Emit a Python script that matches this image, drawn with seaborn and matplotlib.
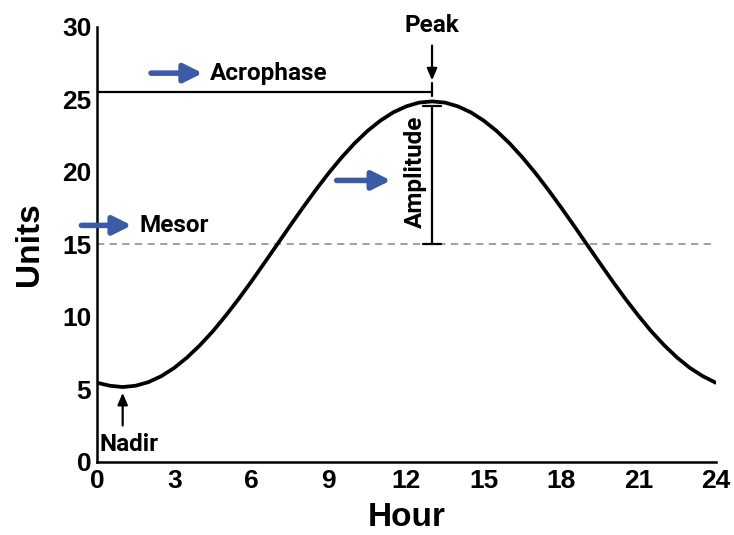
import numpy as np
import pandas as pd
import seaborn as sns
import matplotlib.pyplot as plt

# values, every half hour
hours = [0, 0.5, 1, 1.5, 2, 2.5, 3, 3.5, 4, 4.5, 5, 5.5, 6, 6.5, 7, 7.5, 8, 8.5,
         9, 9.5, 10, 10.5, 11, 11.5, 12, 12.5, 13, 13.5, 14, 14.5, 15, 15.5, 16, 16.5,
         17, 17.5, 18, 18.5, 19, 19.5, 20, 20.5, 21, 21.5, 22, 22.5, 23, 23.5, 24]
units = [5.45, 5.24, 5.15, 5.24, 5.49, 5.9, 6.47, 7.19, 8.04, 9.0, 10.08, 11.23, 12.45, 13.72,
         15.0, 16.29, 17.55, 18.77, 19.93, 21.0, 21.97, 22.82, 23.53, 24.1, 24.51, 24.77,
         24.85, 24.77, 24.51, 24.1, 23.53, 22.82, 21.97, 21.0, 19.93, 18.77, 17.55, 16.29,
         15.0, 13.72, 12.45, 11.23, 10.08, 9.0, 8.04, 7.19, 6.47, 5.9, 5.45]

mesor = 15
peak_hour = 13
peak_value = 24.85
nadir_hour = 1
nadir_value = 5.15
acrophase_level = 25.5

xticks = [0, 3, 6, 9, 12, 15, 18, 21, 24]
yticks = [0, 5, 10, 15, 20, 25, 30]

sns.set_style("white")
plt.rcParams['font.family'] = ['Liberation Sans', 'DejaVu Sans']
plt.rcParams['text.color'] = 'black'
plt.rcParams['axes.labelcolor'] = 'black'
plt.rcParams['xtick.color'] = 'black'
plt.rcParams['ytick.color'] = 'black'

df = pd.DataFrame({'Hour': hours, 'Units': units})

fig, ax = plt.subplots(figsize=(7.34, 5.35), dpi=100)
fig.subplots_adjust(left=0.132, right=0.975, bottom=0.137, top=0.95)

sns.lineplot(data=df, x='Hour', y='Units', color='black', lw=2.7, ax=ax)
ax.axhline(mesor, color='#999999', lw=1.3, ls=(0, (4, 3)), zorder=1)

blue = '#3b5ba5'
arrow_kw = dict(arrowstyle='-|>,head_length=1.1,head_width=0.55', color=blue, lw=4,
                shrinkA=0, shrinkB=0)
ann_font = dict(fontsize=17.5, fontweight='bold', va='center', family=['Roboto', 'DejaVu Sans'])
small_arrow = dict(arrowstyle='-|>,head_length=0.7,head_width=0.3', color='black',
                   lw=1.6, shrinkA=0, shrinkB=0)

# acrophase
ax.plot([0, peak_hour], [acrophase_level, acrophase_level], color='black', lw=1.6)
ax.plot([0.02, 0.02], [25.1, 26.1], color='black', lw=1.6)
ax.annotate('', xy=(4.1, 26.8), xytext=(2.1, 26.8), arrowprops=arrow_kw)
ax.text(4.4, 26.8, 'Acrophase', ha='left', **ann_font)

# peak
ax.annotate('', xy=(peak_hour, 26.3), xytext=(peak_hour, 28.7), arrowprops=small_arrow)
ax.text(peak_hour, 30.1, 'Peak', ha='center', **ann_font)
ax.plot([peak_hour, peak_hour], [acrophase_level - 0.3, acrophase_level + 0.6], color='black', lw=1.6)

# amplitude
ax.plot([peak_hour, peak_hour], [mesor, peak_value - 0.3], color='black', lw=1.6)
ax.plot([peak_hour - 0.35, peak_hour + 0.35], [mesor, mesor], color='black', lw=1.6)
ax.plot([peak_hour - 0.35, peak_hour + 0.35], [peak_value - 0.3, peak_value - 0.3], color='black', lw=1.6)
ax.text(12.35, 20.0, 'Amplitude', rotation=90, ha='center', **ann_font)
ax.annotate('', xy=(11.4, 19.4), xytext=(9.3, 19.4), arrowprops=arrow_kw)

# mesor
ax.annotate('', xy=(1.35, 16.3), xytext=(-0.6, 16.3), arrowprops=arrow_kw, annotation_clip=False)
ax.text(1.65, 16.3, 'Mesor', ha='left', **ann_font)

# nadir
ax.annotate('', xy=(nadir_hour, nadir_value - 0.4), xytext=(nadir_hour, 2.5), arrowprops=small_arrow)
ax.text(0.1, 1.2, 'Nadir', ha='left', **ann_font)

ax.set_xlim(0, 24)
ax.set_ylim(0, 30)
ax.set_xticks(xticks)
ax.set_yticks(yticks)
ax.set_xlabel('Hour', fontsize=24, fontweight='bold', labelpad=7)
ax.set_ylabel('Units', fontsize=24, fontweight='bold', labelpad=12)
ax.tick_params(direction='in', length=6, width=1.5, labelsize=19)
ax.tick_params(axis='x', pad=5)
ax.tick_params(axis='y', pad=4)
for lab in ax.get_xticklabels() + ax.get_yticklabels():
    lab.set_fontweight('bold')

sns.despine(ax=ax)
for side in ['left', 'bottom']:
    ax.spines[side].set_linewidth(1.8)
    ax.spines[side].set_color('black')

plt.savefig('out.png', dpi=100)
